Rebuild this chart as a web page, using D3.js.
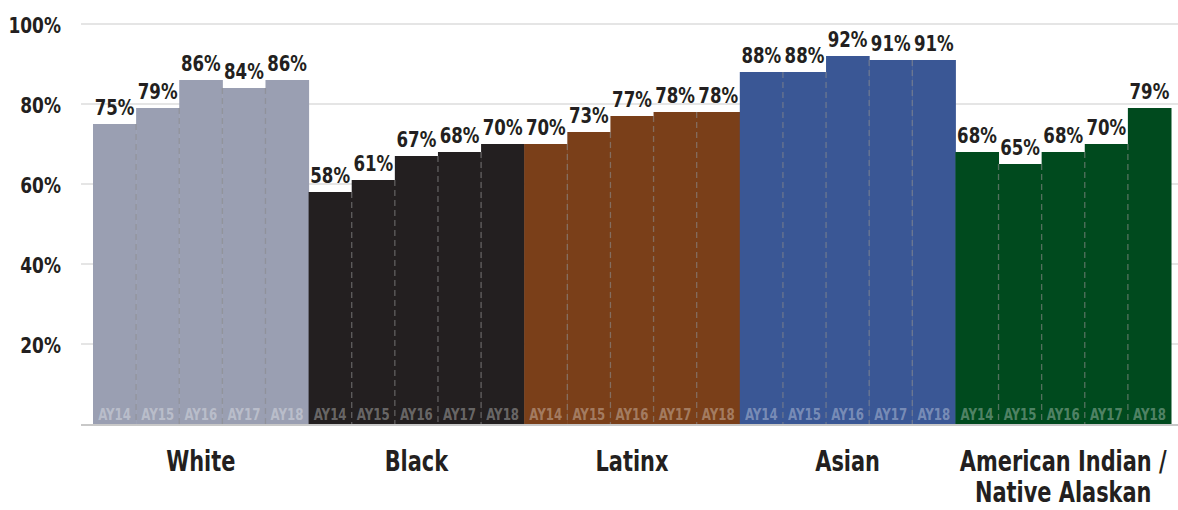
<!DOCTYPE html>
<html><head><meta charset="utf-8">
<script src="https://cdn.jsdelivr.net/npm/d3@7"></script>
<style>
html,body{margin:0;padding:0;background:#fff;}
svg{display:block;}
text{font-family:"DejaVu Sans Condensed","DejaVu Sans",sans-serif;font-weight:bold;}
</style></head>
<body><svg id="chart" width="1178" height="510"></svg>
<script>
const groups = ["White","Black","Latinx","Asian","American Indian / Native Alaskan"];
const groupLines = [["White"],["Black"],["Latinx"],["Asian"],["American Indian /","Native Alaskan"]];
const years = ["AY14","AY15","AY16","AY17","AY18"];
const whiteVals  = [75,79,86,84,86];
const blackVals  = [58,61,67,68,70];
const latinxVals = [70,73,77,78,78];
const asianVals  = [88,88,92,91,91];
const aianVals   = [68,65,68,70,79];
const groupColors = ["#9a9fb2","#231f20","#7a3f19","#3a5795","#004a1e"];
const yTicks = [20,40,60,80,100];

const seriesVals = [whiteVals,blackVals,latinxVals,asianVals,aianVals];
const data = [];
groups.forEach((g,gi)=>years.forEach((y,yi)=>data.push({g,gi,y,yi,v:seriesVals[gi][yi],key:g+"|"+y})));

const svg = d3.select("#chart");
const x = d3.scaleBand().domain(data.map(d=>d.key)).range([93,1171]).padding(0);
const y = d3.scaleLinear().domain([0,100]).range([424,24]);
const cx = d=>x(d.key)+x.bandwidth()/2;

// gridlines
svg.append("g").selectAll("line").data(yTicks).join("line")
  .attr("x1",81).attr("x2",1178).attr("y1",d=>y(d)).attr("y2",d=>y(d))
  .attr("stroke","#e5e5e5").attr("stroke-width",2);
// baseline
svg.append("line").attr("x1",81).attr("x2",1178).attr("y1",y(0)+1).attr("y2",y(0)+1)
  .attr("stroke","#c8c8c8").attr("stroke-width",2);

// y axis labels
const yAxis = d3.axisLeft(y).tickValues(yTicks).tickFormat(d=>d+"%").tickSize(0).tickPadding(0);
const ya = svg.append("g").attr("transform","translate(61,0)").call(yAxis);
ya.select(".domain").remove();
ya.selectAll("text").attr("x",0).attr("dy",null).attr("y",8.5)
  .attr("transform","scale(0.86,1)")
  .style("font-size","22px").style("font-family",'"DejaVu Sans Condensed",sans-serif')
  .attr("fill","#231f20");

// bars
svg.append("g").selectAll("rect").data(data).join("rect")
  .attr("x",d=>x(d.key)).attr("width",x.bandwidth()+0.5)
  .attr("y",d=>y(d.v)).attr("height",d=>y(0)-y(d.v))
  .attr("fill",d=>groupColors[d.gi]);

// dashed separators
const seps = data.filter(d=>d.yi>0).map(d=>({x:x(d.key),top:Math.min(d.v,seriesVals[d.gi][d.yi-1])}));
svg.append("g").selectAll("line").data(seps).join("line")
  .attr("x1",d=>d.x).attr("x2",d=>d.x).attr("y1",d=>y(d.top)).attr("y2",y(0))
  .attr("stroke","#8a8a8a").attr("stroke-opacity",0.6).attr("stroke-width",1.3)
  .attr("stroke-dasharray","6,4");

// value labels
svg.append("g").selectAll("text").data(data).join("text")
  .attr("transform",d=>`translate(${cx(d)},${y(d.v)-9}) scale(0.88,1)`)
  .attr("text-anchor","middle").attr("font-size",21).attr("fill","#231f20")
  .text(d=>d.v+"%");

// year labels
svg.append("g").selectAll("text").data(data).join("text")
  .attr("transform",d=>`translate(${cx(d)},${420}) scale(0.82,1)`)
  .attr("text-anchor","middle").attr("font-size",16).attr("fill","#fff").attr("fill-opacity",0.32)
  .text(d=>d.y);

// group labels
const gl = svg.append("g").selectAll("text").data(groups).join("text")
  .attr("transform",(g)=>`translate(${(x(g+"|AY14")+x(g+"|AY18")+x.bandwidth())/2},471) scale(0.83,1)`)
  .attr("text-anchor","middle").attr("font-size",28).attr("fill","#231f20");
gl.each(function(g,i){
  const t=d3.select(this);
  groupLines[i].forEach((ln,li)=>t.append("tspan").attr("x",0).attr("dy",li===0?0:31).text(ln));
});
</script></body></html>
